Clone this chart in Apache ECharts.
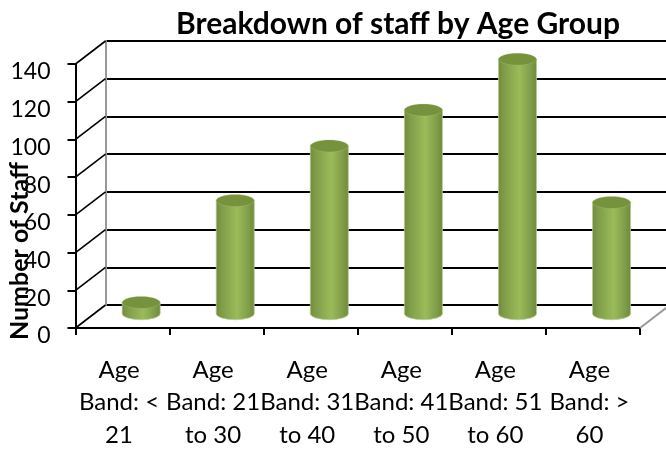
<!DOCTYPE html>
<html>
<head>
<meta charset="utf-8">
<style>html,body{margin:0;padding:0;background:#fff}#c{width:666px;height:450px}</style>
<script src="https://cdn.jsdelivr.net/npm/echarts@6/dist/echarts.min.js"></script>
</head>
<body>
<div id="c"></div>
<script>
var titleText = 'Breakdown of staff by Age Group';
var yAxisName = 'Number of Staff';
var categories = ['Age\nBand: <\n21','Age\nBand: 21\nto 30','Age\nBand: 31\nto 40','Age\nBand: 41\nto 50','Age\nBand: 51\nto 60','Age\nBand: >\n60'];
var staffCounts = [6, 60, 89, 108, 135, 59];
var yTicks = [0, 20, 40, 60, 80, 100, 120, 140];

var FONT = 'Lato';
var DEPTH_X = 30, DEPTH_Y = 23;       // offset of the back wall
var BAR_DEPTH = 0.62, RX = 19, RY = 6; // cylinder placement and radii

var chart = echarts.init(document.getElementById('c'), null, {renderer: 'canvas'});

function bodyGradient() {
  return new echarts.graphic.LinearGradient(0, 0, 1, 0, [
    {offset: 0, color: '#6f8a3e'},
    {offset: 0.15, color: '#7f9c48'},
    {offset: 0.55, color: '#9bbb59'},
    {offset: 0.85, color: '#7f9c48'},
    {offset: 1, color: '#6d883c'}
  ]);
}

function renderCylinder(params, api) {
  var base = api.coord([api.value(0), 0]);
  var top = api.coord([api.value(0), api.value(1)]);
  var cx = base[0] + DEPTH_X * BAR_DEPTH;
  var yb = base[1] - DEPTH_Y * BAR_DEPTH;
  var yt = top[1] - DEPTH_Y * BAR_DEPTH;
  var x0 = cx - RX, x1 = cx + RX;
  var d = 'M' + x0 + ' ' + yt + ' L' + x0 + ' ' + yb +
          ' A' + RX + ' ' + RY + ' 0 0 0 ' + x1 + ' ' + yb +
          ' L' + x1 + ' ' + yt + ' Z';
  return {type: 'group', children: [
    {type: 'path', shape: {pathData: d, x: x0, y: yt, width: RX * 2, height: yb - yt + RY},
     style: {fill: bodyGradient(), stroke: 'rgba(185,203,145,0.75)', lineWidth: 1}},
    {type: 'ellipse', shape: {cx: cx, cy: yt, rx: RX, ry: RY},
     style: {fill: '#76923c', stroke: 'rgba(185,203,145,0.5)', lineWidth: 0.6}}
  ]};
}

function renderDiagonal(params, api) {
  var p = api.coord([0, api.value(0)]);
  var half = api.size([1, 0])[0] / 2;
  var x = p[0] - half;
  return {type: 'line',
    shape: {x1: x, y1: p[1], x2: x + DEPTH_X, y2: p[1] - DEPTH_Y},
    style: {stroke: '#000', lineWidth: 1.6}};
}

function renderFloorRight(params, api) {
  var p = api.coord([categories.length - 1, 0]);
  var half = api.size([1, 0])[0] / 2;
  var x = p[0] + half;
  return {type: 'line',
    shape: {x1: x, y1: p[1], x2: x + DEPTH_X, y2: p[1] - DEPTH_Y},
    style: {stroke: '#999', lineWidth: 2}};
}

chart.setOption({
  animation: false,
  backgroundColor: '#fff',
  title: {
    text: titleText, left: 393, top: 4, textAlign: 'center',
    textStyle: {fontFamily: FONT, fontWeight: 'bold', fontSize: 30, color: '#000'}
  },
  grid: [
    {left: 75.5, top: 64, width: 564.5, height: 264, outerBoundsMode: 'none'},
    {left: 105.5, top: 41, width: 564.5, height: 264, outerBoundsMode: 'none'}
  ],
  xAxis: [
    {type: 'category', gridIndex: 0, data: categories,
     axisLine: {lineStyle: {color: '#000', width: 2}},
     axisTick: {show: true, length: 7, lineStyle: {color: '#000', width: 2}},
     axisLabel: {interval: 0, margin: 26, lineHeight: 32.5, padding: [0, 7, 0, 0], fontFamily: FONT, fontSize: 24, color: '#000'}},
    {type: 'category', gridIndex: 1, data: categories, show: false}
  ],
  yAxis: [
    {type: 'value', gridIndex: 0, min: 0, max: 140, interval: 20,
     name: yAxisName, nameLocation: 'middle', nameGap: 43, nameRotate: 90, nameMoveOverlap: false,
     nameTextStyle: {fontFamily: FONT, fontWeight: 'bold', fontSize: 25, color: '#000', padding: [0, 110, 0, 0]},
     axisLine: {show: true, lineStyle: {color: '#000', width: 2}},
     axisTick: {show: true, length: 8, lineStyle: {color: '#000', width: 2}},
     axisLabel: {margin: 25, verticalAlign: 'top', lineHeight: 16, fontFamily: FONT, fontSize: 23, color: '#000'},
     splitLine: {show: false}},
    {type: 'value', gridIndex: 1, min: 0, max: 140, interval: 20,
     axisLine: {show: true, lineStyle: {color: '#999', width: 2}},
     axisTick: {show: false}, axisLabel: {show: false},
     splitLine: {show: true, lineStyle: {color: '#000', width: 2}}}
  ],
  series: [
    {type: 'custom', xAxisIndex: 0, yAxisIndex: 0, z: 3, silent: true, clip: false,
     data: yTicks.map(function (v) { return [v]; }),
     encode: {y: 0}, renderItem: renderDiagonal},
    {type: 'custom', xAxisIndex: 0, yAxisIndex: 0, z: 3, silent: true, clip: false,
     data: [[0]], encode: {y: 0}, renderItem: renderFloorRight},
    {type: 'custom', xAxisIndex: 0, yAxisIndex: 0, z: 5, silent: true, clip: false,
     data: staffCounts.map(function (v, i) { return [i, v]; }),
     encode: {x: 0, y: 1}, renderItem: renderCylinder}
  ]
});
</script>
</body>
</html>
